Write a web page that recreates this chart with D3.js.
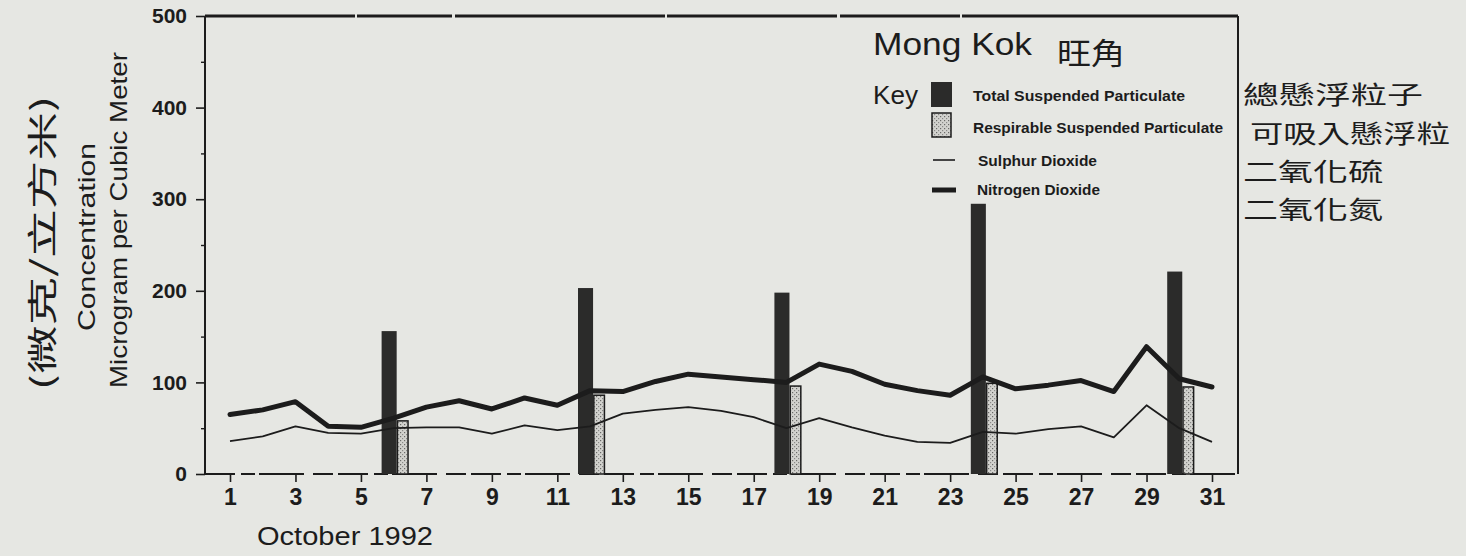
<!DOCTYPE html>
<html><head><meta charset="utf-8">
<script src="https://cdn.jsdelivr.net/npm/d3@7"></script>
<style>
html,body{margin:0;padding:0;background:#e6e7e3;}
svg{display:block;}
text{font-family:"Liberation Sans",Arial,sans-serif;fill:#1c1c1c;}
.cjk{font-family:"Noto Sans CJK TC","Noto Sans CJK SC",sans-serif;}
</style></head><body>
<svg id="chart" width="1466" height="556"></svg>
<script>
// ---- data (October 1992, Mong Kok) ----
const days = [1,2,3,4,5,6,7,8,9,10,11,12,13,14,15,16,17,18,19,20,21,22,23,24,25,26,27,28,29,30,31];
const no2 = [65,70,79,52,51,61,73,80,71,83,75,91,90,101,109,106,103,100,120,112,98,91,86,106,93,97,102,90,139,104,95];
const so2 = [36,41,52,45,44,50,51,51,44,53,48,52,66,70,73,69,62,50,61,51,42,35,34,46,44,49,52,40,75,50,35];
const barDays = [6,12,18,24,30];
const tsp = [156,203,198,295,221];
const rsp = [58,86,96,99,95];
const yTicks = [0,100,200,300,400,500];
const yMinorTicks = [50,150,250,350,450];
const xTicks = [1,3,5,7,9,11,13,15,17,19,21,23,25,27,29,31];
const legendLabels = ["Total Suspended Particulate","Respirable Suspended Particulate","Sulphur Dioxide","Nitrogen Dioxide"];
const legendChinese = ["總懸浮粒子","可吸入懸浮粒","二氧化硫","二氧化氮"];

const svg = d3.select("#chart");
const ink = "#1c1c1c";
const x = d3.scaleLinear().domain([1,31]).range([230,1212]);
const y = d3.scaleLinear().domain([0,500]).range([474,16]);
const frameL = 205, frameR = 1238, frameT = y(500), frameB = y(0);

// stipple pattern for RSP
const defs = svg.append("defs");
const pat = defs.append("pattern").attr("id","stip").attr("width",4).attr("height",4).attr("patternUnits","userSpaceOnUse");
pat.append("rect").attr("width",4).attr("height",4).attr("fill","#d2d2ce");
pat.append("rect").attr("x",0).attr("y",0).attr("width",1.2).attr("height",1.2).attr("fill","#6a6a68");
pat.append("rect").attr("x",2).attr("y",2).attr("width",1.2).attr("height",1.2).attr("fill","#8a8a88");

// frame
svg.append("line").attr("x1",frameL).attr("x2",frameR).attr("y1",frameT).attr("y2",frameT)
  .attr("stroke",ink).attr("stroke-width",3).attr("stroke-dasharray","150,2,95,3,210,2,170,3,120,2,300");
svg.append("line").attr("x1",frameR).attr("x2",frameR).attr("y1",frameT).attr("y2",frameB)
  .attr("stroke",ink).attr("stroke-width",2);
svg.append("line").attr("x1",frameL).attr("x2",frameL).attr("y1",frameT).attr("y2",frameB)
  .attr("stroke",ink).attr("stroke-width",2);
svg.append("line").attr("x1",frameL).attr("x2",frameR).attr("y1",frameB).attr("y2",frameB)
  .attr("stroke",ink).attr("stroke-width",2).attr("stroke-dasharray","30,6,14,4,45,9,20,5");

// bars (pair straddles its day: TSP left, RSP right)
const barShift = 3;
const tspW = x(1.46)-x(1), rspW = x(1.37)-x(1);
svg.append("g").selectAll("rect").data(barDays.map((d,i)=>({d,v:tsp[i]}))).join("rect")
  .attr("x",o=>x(o.d)+barShift-tspW).attr("width",tspW)
  .attr("y",o=>y(o.v)).attr("height",o=>y(0)-y(o.v)).attr("fill","#2b2b2a");
svg.append("g").selectAll("rect").data(barDays.map((d,i)=>({d,v:rsp[i]}))).join("rect")
  .attr("x",o=>x(o.d)+barShift+0.75).attr("width",rspW-1.5)
  .attr("y",o=>y(o.v)).attr("height",o=>y(0)-y(o.v)).attr("fill","url(#stip)")
  .attr("stroke",ink).attr("stroke-width",1.5);

// lines
const line = d3.line().x((v,i)=>x(days[i])).y(v=>y(v));
svg.append("path").datum(so2).attr("d",line).attr("fill","none").attr("stroke",ink)
  .attr("stroke-width",1.8).attr("stroke-linejoin","round");
svg.append("path").datum(no2).attr("d",line).attr("fill","none").attr("stroke",ink)
  .attr("stroke-width",5).attr("stroke-linejoin","round").attr("stroke-linecap","round");

// y axis
const ya = svg.append("g").attr("transform",`translate(${frameL},0)`)
  .call(d3.axisLeft(y).tickValues(yTicks).tickSize(9).tickPadding(9));
ya.select(".domain").remove();
ya.selectAll(".tick line").attr("stroke",ink).attr("stroke-width",1.6);
ya.selectAll(".tick text").attr("font-size",21).attr("font-weight","bold").attr("fill",ink)
  .style("font-family","'Liberation Sans',Arial,sans-serif");
const yb = svg.append("g").attr("transform",`translate(${frameL},0)`)
  .call(d3.axisLeft(y).tickValues(yMinorTicks).tickSize(4).tickFormat(""));
yb.select(".domain").remove();
yb.selectAll(".tick line").attr("stroke",ink).attr("stroke-width",1.4);

// x axis
const xa = svg.append("g").attr("transform",`translate(0,${frameB})`)
  .call(d3.axisBottom(x).tickValues(xTicks).tickSize(8).tickPadding(7));
xa.select(".domain").remove();
xa.selectAll(".tick line").attr("stroke",ink).attr("stroke-width",1.6);
xa.selectAll(".tick text").attr("font-size",23).attr("font-weight","bold").attr("fill",ink)
  .style("font-family","'Liberation Sans',Arial,sans-serif");

// axis titles
svg.append("text").attr("x",257).attr("y",545).attr("font-size",25)
  .attr("textLength",176).attr("lengthAdjust","spacingAndGlyphs").text("October 1992");
svg.append("text").attr("transform","translate(86,237) rotate(-90)").attr("text-anchor","middle")
  .attr("dominant-baseline","central").attr("font-size",24)
  .attr("textLength",188).attr("lengthAdjust","spacingAndGlyphs").text("Concentration");
svg.append("text").attr("transform","translate(118,220) rotate(-90)").attr("text-anchor","middle")
  .attr("dominant-baseline","central").attr("font-size",24)
  .attr("textLength",336).attr("lengthAdjust","spacingAndGlyphs").text("Microgram per Cubic Meter");
svg.append("text").attr("class","cjk").attr("transform","translate(40,243) rotate(-90)").attr("text-anchor","middle")
  .attr("dominant-baseline","central").attr("font-size",30)
  .attr("textLength",295).attr("lengthAdjust","spacingAndGlyphs").text("(微克/立方米)");

// title + legend
svg.append("text").attr("x",873).attr("y",55).attr("font-size",32)
  .attr("textLength",159).attr("lengthAdjust","spacingAndGlyphs").text("Mong Kok");
svg.append("text").attr("class","cjk").attr("x",1057).attr("y",64).attr("font-size",30)
  .attr("textLength",68).attr("lengthAdjust","spacingAndGlyphs").text("旺角");
svg.append("text").attr("x",873).attr("y",104).attr("font-size",25)
  .attr("textLength",45).attr("lengthAdjust","spacingAndGlyphs").text("Key");

svg.append("rect").attr("x",931).attr("y",82).attr("width",21).attr("height",25).attr("fill","#2b2b2a");
svg.append("rect").attr("x",932).attr("y",113).attr("width",19).attr("height",24)
  .attr("fill","url(#stip)").attr("stroke",ink).attr("stroke-width",1.5);
svg.append("line").attr("x1",933).attr("x2",955).attr("y1",160).attr("y2",160).attr("stroke",ink).attr("stroke-width",1.6);
svg.append("line").attr("x1",932).attr("x2",956).attr("y1",190).attr("y2",190).attr("stroke",ink).attr("stroke-width",5);

const legPos = [[973,101,212],[973,133,250],[978,166,119],[977,195,123]];
legendLabels.forEach((t,i)=>{
  svg.append("text").attr("x",legPos[i][0]).attr("y",legPos[i][1]).attr("font-size",15)
    .attr("font-weight","bold").attr("textLength",legPos[i][2]).attr("lengthAdjust","spacingAndGlyphs").text(t);
});
const cnPos = [[1243,104,180],[1250,143,200],[1243,181,140],[1243,219,140]];
legendChinese.forEach((t,i)=>{
  svg.append("text").attr("class","cjk").attr("x",cnPos[i][0]).attr("y",cnPos[i][1]).attr("font-size",25)
    .attr("textLength",cnPos[i][2]).attr("lengthAdjust","spacingAndGlyphs").text(t);
});
</script>
</body></html>
